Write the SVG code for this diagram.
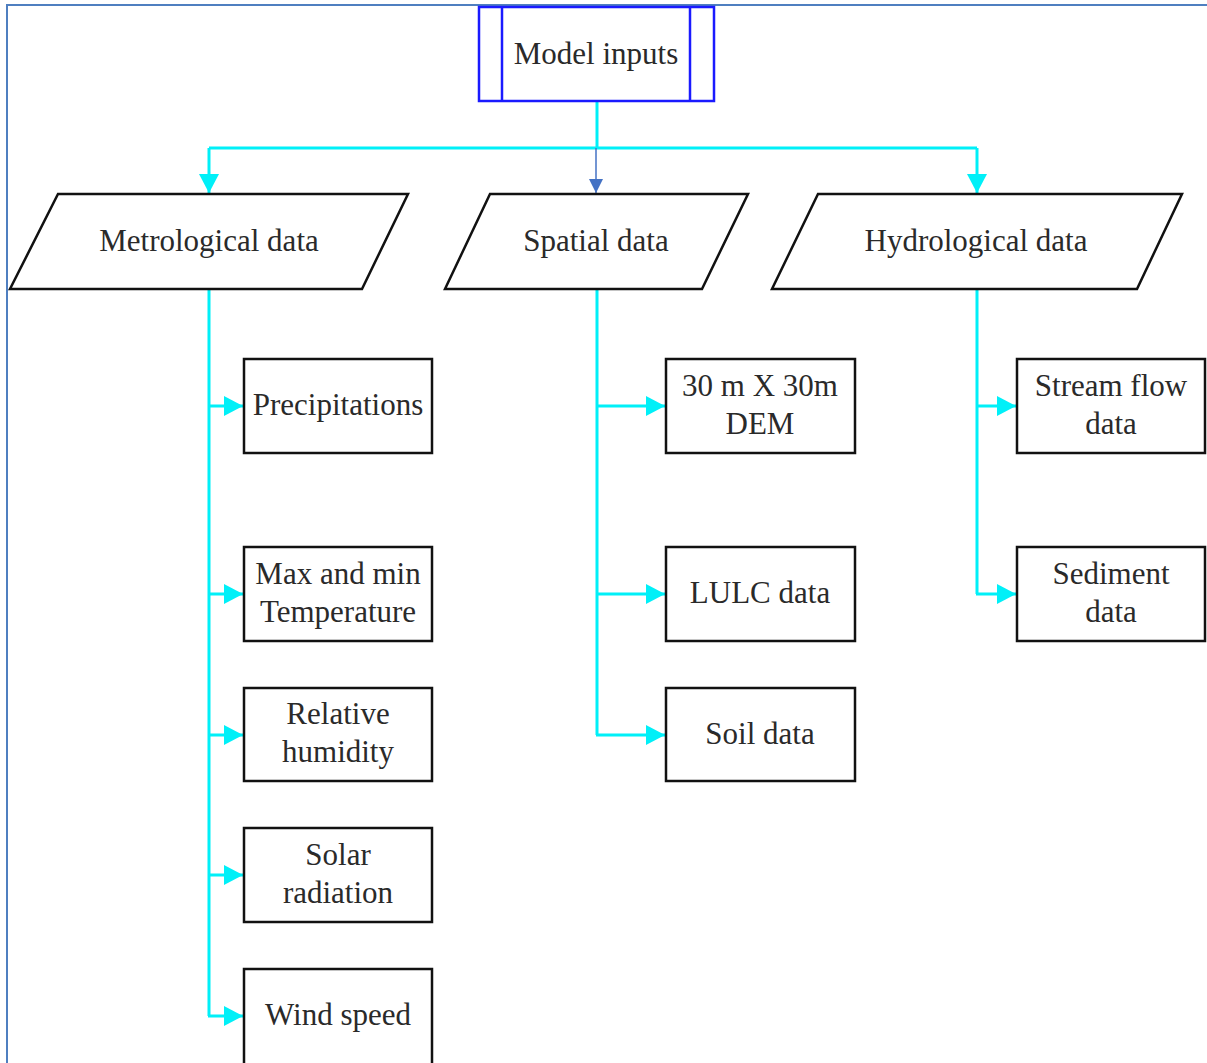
<svg xmlns="http://www.w3.org/2000/svg" width="1207" height="1063" viewBox="0 0 1207 1063">
  <style>
    .box { fill: #ffffff; stroke: #111111; stroke-width: 2.5; }
    .top { fill: #ffffff; stroke: #1a1aff; stroke-width: 2.5; }
    .lbl { font-family: "Liberation Serif", "Times New Roman", serif; font-size: 31px; fill: #2a2a2a; text-anchor: middle; }
    .link { fill: none; stroke: #00f0f8; stroke-width: 3; }
    .blue { fill: none; stroke: #4472c4; stroke-width: 1.5; }
  </style>
  <defs>
    <marker id="cyanHead" markerUnits="userSpaceOnUse" markerWidth="20" markerHeight="20" refX="19" refY="10" orient="auto">
      <path d="M0,0 L19,10 L0,20 Z" fill="#00f0f8"/>
    </marker>
    <marker id="blueHead" markerUnits="userSpaceOnUse" markerWidth="14" markerHeight="14" refX="14" refY="7" orient="auto">
      <path d="M0,0 L14,7 L0,14 Z" fill="#4472c4"/>
    </marker>
  </defs>

  <rect width="1207" height="1063" fill="#ffffff"/>
  <!-- page frame -->
  <path d="M7,1063 L7,5 L1207,5" fill="none" stroke="#4f7fc0" stroke-width="2"/>

  <g id="connectors">
    <path class="link" d="M597,101 L597,148"/>
    <path class="link" d="M209,148 L977,148"/>
    <path class="link" d="M209,148 L209,193" marker-end="url(#cyanHead)"/>
    <path class="link" d="M977,148 L977,193" marker-end="url(#cyanHead)"/>
    <path class="blue" d="M596,148 L596,193" marker-end="url(#blueHead)"/>

    <path class="link" d="M209,289 L209,1016"/>
    <path class="link" d="M209,406 L243,406" marker-end="url(#cyanHead)"/>
    <path class="link" d="M209,594 L243,594" marker-end="url(#cyanHead)"/>
    <path class="link" d="M209,735 L243,735" marker-end="url(#cyanHead)"/>
    <path class="link" d="M209,875 L243,875" marker-end="url(#cyanHead)"/>
    <path class="link" d="M208,1016 L243,1016" marker-end="url(#cyanHead)"/>

    <path class="link" d="M597,289 L597,735"/>
    <path class="link" d="M597,406 L665,406" marker-end="url(#cyanHead)"/>
    <path class="link" d="M597,594 L665,594" marker-end="url(#cyanHead)"/>
    <path class="link" d="M596,735 L665,735" marker-end="url(#cyanHead)"/>

    <path class="link" d="M977,289 L977,594"/>
    <path class="link" d="M977,406 L1016,406" marker-end="url(#cyanHead)"/>
    <path class="link" d="M976,594 L1016,594" marker-end="url(#cyanHead)"/>
  </g>

  <g id="model-inputs">
    <rect class="top" x="479" y="7" width="235" height="94"/>
    <line class="top" x1="502" y1="7" x2="502" y2="101"/>
    <line class="top" x1="690" y1="7" x2="690" y2="101"/>
    <text class="lbl" x="596" y="64">Model inputs</text>
  </g>

  <g id="metrological-data">
    <polygon class="box" points="58,194 408,194 362,289 10,289"/>
    <text class="lbl" x="209" y="251">Metrological data</text>
  </g>
  <g id="spatial-data">
    <polygon class="box" points="490,194 748,194 702,289 445,289"/>
    <text class="lbl" x="596" y="251">Spatial data</text>
  </g>
  <g id="hydrological-data">
    <polygon class="box" points="818,194 1182,194 1137,289 772,289"/>
    <text class="lbl" x="976" y="251">Hydrological data</text>
  </g>

  <g id="precipitations">
    <rect class="box" x="244" y="359" width="188" height="94"/>
    <text class="lbl" x="338" y="415">Precipitations</text>
  </g>
  <g id="temperature">
    <rect class="box" x="244" y="547" width="188" height="94"/>
    <text class="lbl" x="338" y="584">Max and min</text>
    <text class="lbl" x="338" y="622">Temperature</text>
  </g>
  <g id="humidity">
    <rect class="box" x="244" y="688" width="188" height="93"/>
    <text class="lbl" x="338" y="724">Relative</text>
    <text class="lbl" x="338" y="762">humidity</text>
  </g>
  <g id="solar-radiation">
    <rect class="box" x="244" y="828" width="188" height="94"/>
    <text class="lbl" x="338" y="865">Solar</text>
    <text class="lbl" x="338" y="903">radiation</text>
  </g>
  <g id="wind-speed">
    <rect class="box" x="244" y="969" width="188" height="100"/>
    <text class="lbl" x="338" y="1025">Wind speed</text>
  </g>

  <g id="dem">
    <rect class="box" x="666" y="359" width="189" height="94"/>
    <text class="lbl" x="760" y="396">30 m X 30m</text>
    <text class="lbl" x="760" y="434">DEM</text>
  </g>
  <g id="lulc">
    <rect class="box" x="666" y="547" width="189" height="94"/>
    <text class="lbl" x="760" y="603">LULC data</text>
  </g>
  <g id="soil">
    <rect class="box" x="666" y="688" width="189" height="93"/>
    <text class="lbl" x="760" y="744">Soil data</text>
  </g>

  <g id="stream-flow">
    <rect class="box" x="1017" y="359" width="188" height="94"/>
    <text class="lbl" x="1111" y="396">Stream flow</text>
    <text class="lbl" x="1111" y="434">data</text>
  </g>
  <g id="sediment">
    <rect class="box" x="1017" y="547" width="188" height="94"/>
    <text class="lbl" x="1111" y="584">Sediment</text>
    <text class="lbl" x="1111" y="622">data</text>
  </g>
</svg>
